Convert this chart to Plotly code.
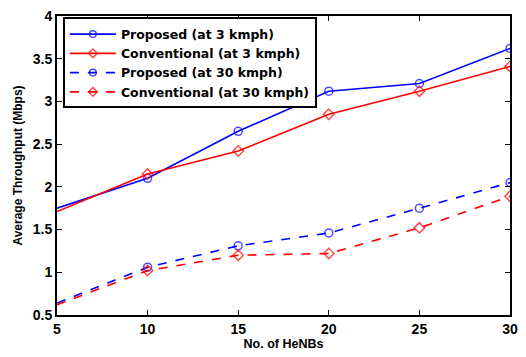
import plotly.graph_objects as go

x_nodes = [5, 10, 15, 20, 25, 30]
prop_3 = [1.75, 2.10, 2.65, 3.12, 3.21, 3.62]
conv_3 = [1.71, 2.15, 2.42, 2.85, 3.12, 3.41]
prop_30 = [0.64, 1.06, 1.31, 1.46, 1.75, 2.05]
conv_30 = [0.62, 1.02, 1.20, 1.22, 1.52, 1.89]

names = ["Proposed (at 3 kmph)", "Conventional (at 3 kmph)",
         "Proposed (at 30 kmph)", "Conventional (at 30 kmph)"]
series = [prop_3, conv_3, prop_30, conv_30]
colors = ["#0000ff", "#ff0000", "#0000ff", "#ff0000"]
dashes = ["solid", "solid", "dash", "dash"]
symbols = ["circle-open", "diamond-open", "circle-open", "diamond-open"]

fig = go.Figure()
for n, s, c, d, sym in zip(names, series, colors, dashes, symbols):
    sizes = [0] + [8] * (len(x_nodes) - 1)
    fig.add_trace(go.Scatter(
        x=x_nodes, y=s, name=n, mode="lines+markers",
        line=dict(color=c, width=1.6, dash=d),
        marker=dict(symbol=sym, size=sizes, color=c, line=dict(width=1.5, color=c)),
        cliponaxis=True,
    ))

font_family = "Liberation Sans, Arial, sans-serif"
fig.update_layout(
    width=526, height=357,
    margin=dict(l=57, r=8, t=14, b=39),
    paper_bgcolor="white", plot_bgcolor="white",
    font=dict(family=font_family, color="black"),
    showlegend=True,
    legend=dict(
        x=0.013, y=0.995, xanchor="left", yanchor="top",
        bgcolor="white", bordercolor="black", borderwidth=2,
        font=dict(size=12.5, family="DejaVu Sans, sans-serif", weight="bold"),
        itemwidth=46, tracegroupgap=0,
    ),
    xaxis=dict(
        range=[5, 30], tickvals=[5, 10, 15, 20, 25, 30],
        ticks="inside", ticklen=5, tickwidth=1, tickcolor="black",
        showline=True, linecolor="black", linewidth=2, mirror="ticks",
        showgrid=False, zeroline=False,
        tickfont=dict(size=14, family=font_family, weight="bold"),
        title=dict(text="No. of HeNBs", standoff=3,
                   font=dict(size=12.5, family=font_family, weight="bold")),
    ),
    yaxis=dict(
        range=[0.5, 4], tickvals=[0.5, 1, 1.5, 2, 2.5, 3, 3.5, 4],
        ticktext=["0.5", "1", "1.5", "2", "2.5", "3", "3.5", "4"],
        ticks="inside", ticklen=5, tickwidth=1, tickcolor="black",
        showline=True, linecolor="black", linewidth=2, mirror="ticks",
        showgrid=False, zeroline=False,
        tickfont=dict(size=14, family=font_family, weight="bold"),
        title=dict(text="Average Throughput (Mbps)", standoff=8,
                   font=dict(size=12, family=font_family, weight="bold")),
    ),
)

fig.write_html("out.html")
